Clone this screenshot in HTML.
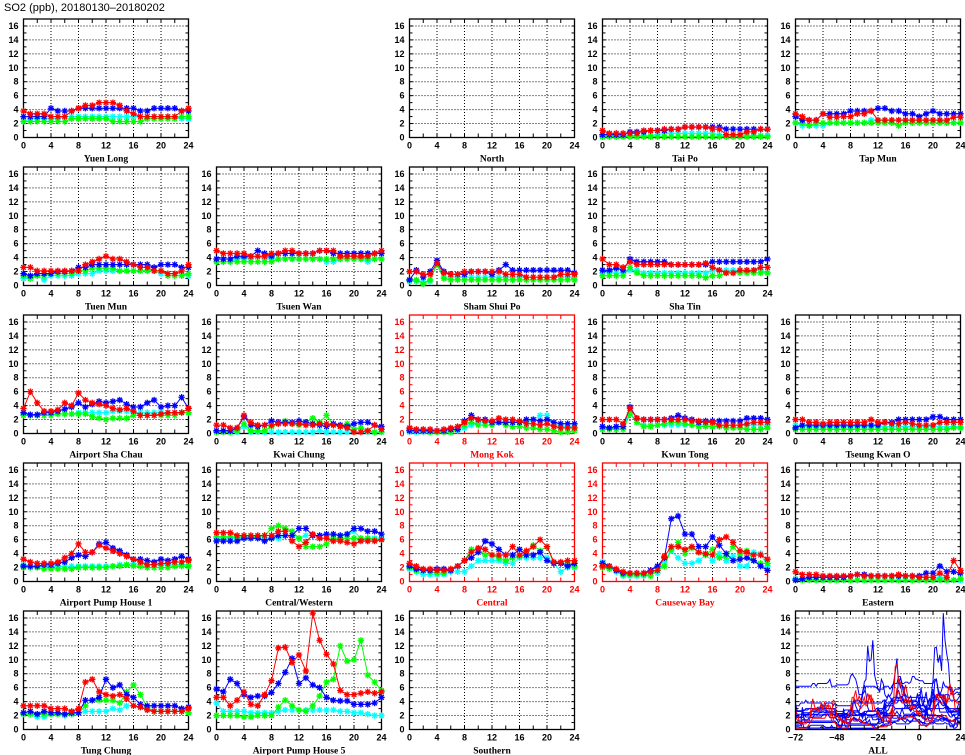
<!DOCTYPE html>
<html><head><meta charset="utf-8"><style>
body{margin:0;background:#fff;}
svg{display:block;font-family:"Liberation Sans",sans-serif;}
</style></head><body>
<svg id="chart" width="965" height="755" viewBox="0 0 965 755" xmlns="http://www.w3.org/2000/svg">
<text x="4" y="11" font-size="11" fill="#000">SO2 (ppb), 20180130–20180202</text>
</svg>
<script>
const hours = [0,1,2,3,4,5,6,7,8,9,10,11,12,13,14,15,16,17,18,19,20,21,22,23,24];
const xTicks = [0,4,8,12,16,20,24];
const yTicks = [0,2,4,6,8,10,12,14,16];
const allTicks = [-72,-48,-24,0,24];
const seriesColors = ['#00ffff','#00ff00','#0000ff','#ff0000'];
const seriesNames = ['cyan','green','blue','red'];

// each station: [cyan, green, blue, red]
const yuenLong = [
 [2.3,2.7,2.7,2.7,2.7,2.7,3,3,3,3,3,3,3,3,3,3,3,3,3,3,3,3,3,2.7,2.7],
 [2.3,2.3,2.3,2.3,2.3,2.3,2.3,2.7,2.7,2.7,2.7,2.7,2.7,2.3,2.3,2.3,2.3,2.3,2.7,2.7,2.7,2.7,2.7,3,3],
 [3,3,3,3,4.2,3.8,3.8,3.8,4.2,4.2,4.2,4.2,4.2,4.2,4.2,4.2,4.2,3.8,3.8,4.2,4.2,4.2,4.2,3.8,3.8],
 [3.8,3.4,3.4,3.4,3,3,3,3.8,4.2,4.6,4.6,5,5,5,4.6,3.8,3.4,3,3,3,3,3,3,3.8,4.2]];
const taiPo = [
 [0.2,0.2,0.2,0.2,0.3,0.3,0.3,0.3,0.4,0.6,0.6,0.6,0.6,0.6,0.6,0.6,0.6,0.4,0.3,0.3,0.3,0.3,0.3,0.3,0.3],
 [0.1,0.1,0.1,0.1,0.1,0.1,0.1,0.1,0.1,0.1,0.1,0.1,0.1,0.1,0.1,0.1,0.1,0.1,0.1,0.1,0.1,0.1,0.1,0.1,0.1],
 [0.4,0.4,0.4,0.4,0.8,0.8,0.8,1,1,1,1.2,1.2,1.5,1.5,1.5,1.5,1.5,1.5,1.2,1.2,1.2,1.2,1.2,1.2,1.2],
 [1,0.6,0.6,0.6,0.6,0.6,1,1,1,1.2,1.2,1.2,1.5,1.5,1.5,1.5,1.2,1.2,0.4,0.4,0.4,0.8,0.8,1.2,1.2]];
const tapMun = [
 [2.1,1.7,1.7,1.7,1.7,2.1,2.1,2.1,2.1,2.1,2.1,2.5,2.5,2.5,2.5,2.5,2.5,2.5,2.5,2.5,2.5,2.5,2.1,2.1,2.1],
 [2.1,2.1,1.7,2.1,2.1,2.1,2.1,2.1,2.1,2.1,2.1,2.1,2.1,2.1,2.1,1.7,2.1,2.1,2.1,2.1,2.1,2.1,2.1,2.1,2.1],
 [3,2.5,2.5,2.5,3.4,3.4,3.4,3.4,3.8,3.8,3.8,3.8,4.2,4.2,3.8,3.8,3.4,3.4,3,3.4,3.8,3.4,3.4,3.4,3.4],
 [3.4,3,2.5,2.5,3.4,2.9,2.9,3,3,3.4,3.4,3.8,2.5,2.5,2.5,2.5,2.5,2.5,2.5,2.5,2.5,2.5,2.5,2.9,2.9]];
const tuenMun = [
 [1,1,1.4,0.8,1.4,1.4,1.4,1.4,1.7,1.7,1.7,2.1,2.1,2.1,2.1,2.1,2.1,2.1,2.1,2.1,1.7,1.7,1.7,1.7,1.4],
 [1.4,1,1.4,1.4,1.7,1.7,1.7,1.7,2.1,2.1,2.5,2.5,2.5,2.5,2.1,2.1,2.1,2.1,2.1,2.1,2.1,1.4,1.4,1.4,1.7],
 [1.7,1.4,1.7,1.7,1.7,2,2,2.1,2.6,2.6,3,3,3,3,3,3,3,3,3,2.6,3,3,3,2.6,2.6],
 [2.6,2.6,2.1,2.1,2.1,2.1,2.1,2.1,2.1,3,3.4,3.8,4.2,3.8,3.8,3.4,3,2.6,2.6,2.1,2.1,1.7,1.7,2.1,3]];
const tsuenWan = [
 [3.4,3.4,3.4,3.8,3.8,3.8,4.2,3.8,3.8,3.8,3.8,3.8,3.8,3.8,3.8,3.8,3.4,3.4,3.8,3.8,3.8,3.8,3.4,3.8,3.8],
 [3.4,3.4,3.4,3.4,3.4,3.4,3.4,3.4,3.4,3.8,3.8,3.8,3.8,3.8,3.8,3.8,3.8,3.8,3.8,3.8,3.8,3.8,3.8,3.8,3.8],
 [3.8,3.8,3.8,4.2,4.2,4.2,5,4.6,4.2,4.6,4.6,4.6,4.6,4.6,4.6,5,5,4.6,4.6,4.6,4.6,4.6,4.6,4.6,4.6],
 [5,4.6,4.6,4.6,4.6,4.2,4.2,4.2,4.6,4.6,5,5,4.6,4.6,4.6,5,5,5,4.2,4.2,4.2,4.2,4.2,4.6,5]];
const shamShuiPo = [
 [0.6,0.6,0.6,0.6,3.2,1.2,1.2,1.2,1.2,1.2,1.2,1.2,1.2,1.2,1.2,1.2,1.2,1.2,1.2,1.2,1.2,1.2,1.2,1.2,1.2],
 [0.8,0.8,0.2,0.8,3,1,0.8,0.8,0.8,0.8,0.8,0.8,0.8,0.8,0.8,0.8,0.8,0.8,0.8,0.8,0.8,0.8,0.8,0.8,0.8],
 [0.8,2.2,1.2,2,3.6,2,1.6,1.6,1.6,2,2,2,1.6,2.2,3,2.2,2.2,2.2,2.2,2.2,2.2,2.2,2.2,2.2,1.8],
 [2,2,1.6,1.6,3.2,1.8,1.6,1.6,2,2,2,2,2,2,1.6,1.6,1.6,1.2,1.2,1.2,1.2,1.2,1.6,1.6,1.6]];
const shaTin = [
 [1.8,1.8,1.8,1.8,2.2,2.2,1.8,1.8,1.8,1.8,1.8,1.8,1.8,1.8,1.8,1.8,2.2,2.2,2.2,2.2,2.2,2.2,2.2,2.2,1.8],
 [1.4,1.4,1.4,1.4,2.6,1.8,1.4,1.4,1.4,1.4,1.4,1.4,1.4,1.4,1.4,1.1,1.4,1.4,1.8,1.8,1.8,1.8,1.8,1.8,1.8],
 [2.2,2.2,2.5,2.2,3.8,3.4,3.4,3.4,3.4,3.4,3,3,3,3,3,3,3.4,3.4,3.4,3.4,3.4,3.4,3.4,3.4,3.8],
 [3.8,3,3,2.6,3.4,3,3,3,3,3,3,3,3,3,3,3.2,2.6,2.2,1.8,1.8,2.2,2.2,2.2,2.6,2.6]];
const airportShaChau = [
 [2.8,2.6,2.6,2.6,2.8,2.8,2.8,2.8,3,3,3,3,3,3.2,3.2,3.2,3,3,3,3,3,3,3,3,3],
 [2.6,2.6,2.6,2.6,2.6,2.8,2.8,2.8,2.8,2.8,2.4,2.2,2,2.2,2.2,2.2,2.6,2.6,2.6,2.6,2.6,2.6,2.6,3,3],
 [3,2.7,2.7,3,3,3.2,3.5,3.8,4.4,3.8,4.2,4.6,4.4,4.6,4.8,4.2,3.8,3.8,4.4,4.8,3.8,4,4,5.2,3.6],
 [3.6,6,4.4,3.2,3.2,3.4,4.4,4,5.8,4.8,4.4,4.2,4,3.6,3.4,3.6,3.2,2.6,2.6,2.6,2.8,3,3,3,3.6]];
const kwaiChung = [
 [0.2,0.2,0.2,0.2,1,0.2,0.2,0.2,0.2,0.2,0.2,0.2,0.2,0.2,0.2,0.4,0.2,0.2,0.2,0.2,0.2,0.2,0.2,0.2,0.2],
 [0.2,0.2,0.2,0.4,1.4,0.4,0.4,0.4,1,1.4,1.8,1.4,1.2,1.6,2.2,1.6,2.6,1.2,1,1.4,0.6,0.8,0.4,0.2,0.2],
 [0.4,0.4,0.4,0.8,2.4,1.2,1,1.2,1.8,1.6,1.6,1.6,1.8,1.6,1.4,1.2,1,1.4,1.2,1,1.4,1.6,1.6,1.2,1],
 [1.2,1.2,0.8,0.8,2.6,1.6,1.2,1.2,1.2,1.4,1.4,1.4,1.4,1.2,1.2,1.4,1.4,1.2,1,0.8,0.2,0.2,0.4,1.2,0.6]];
const mongKok = [
 [0.2,0.2,0.2,0.2,0.2,0.2,0.2,0.4,0.8,1.2,1.6,1.6,1.6,1.6,1.6,1.6,1.6,1.6,2,2.6,2.6,1.2,1,1,1],
 [0.6,0.4,0.4,0.2,0.2,0.2,0.2,0.6,1.2,1.6,1.2,1.2,1.2,1.6,1.2,1,1,0.8,0.8,0.6,0.6,0.4,0.2,0.2,0.4],
 [0.4,0.4,0.4,0.4,0.4,0.4,0.6,0.6,1.8,2.6,2,2,1.6,1.6,1.6,1.6,1.6,2,2,1.8,2,1.6,1.4,1.4,1.4],
 [0.8,0.6,0.6,0.6,0.4,0.6,0.8,1,1.6,2.2,2,1.8,1.8,2.2,2,2,1.8,1.4,1.4,1.2,1.4,1,0.8,0.8,0.8]];
const kwunTong = [
 [0.8,0.8,0.8,1,3,1.6,1.2,1.2,1.2,1.2,1.2,1.2,1.2,1.2,1.2,1.2,1.2,1.2,1.2,1.2,1.2,1.2,1.2,1.2,1.2],
 [0.6,0.6,0.6,0.6,2.8,1.6,1,1,1.2,1.4,1.6,1.6,1.4,1.2,1,1,1,1,0.8,0.8,0.8,0.6,0.6,0.6,0.8],
 [1,0.8,1,1,3.8,2.2,2,2,2,2,2.2,2.6,2.2,2,1.6,1.8,1.8,1.8,1.8,1.8,1.8,2.2,2.2,2.2,2],
 [2,2,2,1.4,3.6,2.2,2,2,2,2,2,2,2,1.8,1.8,1.6,1.6,1.2,1.2,1.2,1.2,1.4,1.6,1.6,1.6]];
const tseungKwanO = [
 [1.2,1,1,1,1,1,1,1,1,1,1,1,1,1,1,1,1,1,1,1,1,1,1,1,1],
 [0.6,0.6,0.6,0.6,0.6,0.6,0.6,0.6,0.6,0.6,0.6,0.6,0.6,0.6,0.6,0.6,0.6,0.6,0.6,0.6,0.6,0.6,0.6,0.8,0.8],
 [0.8,1.2,1.2,1.2,1.2,1.2,1.2,1.2,1.2,1.2,1.2,1.2,1.2,1.6,1.6,2,2,2,2,2,2.4,2.4,2,2,2],
 [2,2,1.6,1.6,1.4,1.6,1.6,1.6,1.6,1.6,1.6,2,1.6,1.6,1.4,1.4,1.6,1.4,1.2,1.2,1.2,1.6,1.6,1.6,1.6]];
const airportPH1 = [
 [2.4,2.2,2.2,2.2,2.2,2.2,2.2,2.2,2.2,2.2,2.2,2.2,2.2,2.2,2.4,2.4,2.6,2.4,2.4,2.4,2.4,2.4,2.4,2.4,2.4],
 [2,2,2,1.8,1.8,1.8,1.8,1.8,2,2,2,2,2,2.2,2.2,2.4,2.2,2.2,2,2,2,2,2.2,2.2,2.2],
 [2.2,2.2,2.2,2.4,2.4,2.6,2.8,3.4,3.8,3.6,4.2,5.4,5.6,4.8,4.4,3.8,3.2,3.2,3,2.8,3.2,3,3.2,3.6,3.2],
 [3.2,2.8,2.6,2.6,2.6,2.8,3.4,4,5.4,4.2,4.2,5.2,4.8,4.4,4,3.6,3.2,2.8,2.4,2.4,2.6,2.6,2.8,2.8,3]];
const centralWestern = [
 [6.2,6.2,6.2,6.2,6.2,6.2,6.2,6.2,6.2,6.2,6.6,6.6,6.2,6.6,6.6,6.6,6.6,6.6,6.6,6.8,7.2,6.2,6.2,6.2,6.2],
 [6.4,6.4,6.4,6.4,6.4,6.4,6.4,6.6,7.6,8,7.6,7.2,6.2,5,5,5,5.4,6.2,6.2,6.2,6.2,6.2,6.2,6,6],
 [5.8,5.8,5.8,5.8,6.2,6.2,6.2,5.8,6.2,6.6,6.6,6.6,7.6,7.6,6.6,6.6,6.8,6.8,6.6,6.8,7.6,7.6,7.2,7.2,6.8],
 [7,7,7,6.6,6.6,6.6,6.6,6.6,6.6,7.2,7.2,5.8,5,5.6,6.8,6.2,6.2,5.8,5.8,5.6,5.4,5.8,5.8,5.8,6]];
const central = [
 [1.8,1.4,1,1,1,1,1.4,1.4,1.4,2.2,3,3,3,3,2.6,2.6,3.4,3.4,3.4,3.4,3.4,2.6,1.4,2,2],
 [2,1.6,1.6,1.4,1.2,1.2,1.8,2.2,3,4.6,4.6,3.8,3.8,3.4,3,3.4,3.6,3.8,5.2,4.4,5,2.6,2.6,2.6,2.2],
 [2.2,1.8,1.6,1.6,1.8,1.8,1.6,2.2,3,3.4,4.2,5.8,5.4,4.6,3.8,3.8,4.6,3.8,3.8,4.2,3,2.6,2.6,2.2,2.6],
 [2.6,2.2,1.8,1.8,1.6,1.6,1.8,2.2,3,4.2,4.8,4.6,3.8,3.8,3.8,5,3.8,4.4,5,6,5,2.8,2.8,3,3]];
const causewayBay = [
 [2.8,2.2,1.4,0.8,0.8,0.8,0.8,1.2,1.2,3,4.4,3.4,2.6,2.6,3,3.8,3,4,3,3.6,2.2,2.2,4.2,4,2.2],
 [2,1.8,1.6,1,1,1,1,0.8,1.6,2.2,4.6,5.6,4,4.8,4.2,3.8,4.6,3.4,3.6,5,3.8,4.4,3,2.6,2.6],
 [2.6,2.2,1.6,1.2,1.2,1.2,1.2,1.6,2.2,3.4,9,9.4,6.8,6.8,5,5,6.4,5.2,4,3,3.2,3.4,3,2.2,1.6],
 [2.2,2.2,1.8,1.4,1.2,1.2,1.2,1.4,1.6,3.6,5,5,4.6,5,4.2,4,3.8,6,6.4,5.6,4.4,4.2,3.8,3.8,3.2]];
const eastern = [
 [0.4,0.4,0.4,0.2,0.2,0.2,0.2,0.2,0.2,0.2,0.2,0.2,0.2,0.2,0.2,0.2,0.2,0.2,0.2,0.2,0.2,0.6,0.2,0.2,0.2],
 [0.2,0.2,0.2,0.2,0.2,0.2,0.2,0.2,0.2,0.2,0.2,0.2,0.2,0.2,0.2,0.2,0.2,0.2,0.2,0.2,0.2,0.2,0.2,0.2,0.4],
 [0.2,0.4,0.6,0.6,0.6,0.6,0.6,0.6,0.8,1,1,0.8,0.8,0.8,0.8,0.8,0.8,0.8,0.8,1.2,1.2,2.2,1.4,1.4,1.2],
 [1.4,1,1,1,0.8,0.8,0.8,0.8,0.8,1,0.8,0.8,0.8,0.8,0.8,1,0.8,0.8,0.6,0.6,0.6,1.2,0.6,3,1.6]];
const tungChung = [
 [2.2,2.2,1.8,1.8,2.2,2.2,2,2.2,2.4,2.6,2.6,2.6,2.6,3,2.8,3.4,3.4,3.2,2.8,2.6,2.6,2.6,2.6,2.6,2.4],
 [2.2,2.2,2.2,2.2,2.2,2.2,2.2,2.2,2.4,3.4,4.2,4.2,4.2,4.2,3.8,5.4,6.4,5,3.2,2.6,2.6,2.6,2.6,2.6,2.4],
 [2.4,2.6,2.2,2.6,2.4,2.4,2.2,2.4,2.4,4.2,4.2,4.6,7.2,6,6.4,5,4.6,3.6,3.4,3.4,3.4,3.4,3.4,3,3.2],
 [3.4,3.4,3.4,3.4,3,3,3,2.6,3,6.8,7.2,5.4,5,4.8,5,4.4,3.4,3.2,2.8,2.6,2.6,2.6,2.6,2.6,3]];
const airportPH5 = [
 [3.8,2.6,2.6,2.6,2.6,2.4,2.4,2.4,2.4,2.6,2.8,2.8,2.8,2.8,2.8,2.8,2.8,2.8,2.6,2.6,2.4,2.4,2.2,2,2],
 [2,2,2,2,1.8,1.8,2,2,2,3.2,4.2,3.4,2.8,2.6,3.4,4.8,6.8,7.2,12,9.8,10,12.8,7.8,6.8,5.6],
 [5.8,5.4,7.2,6.6,5,4.6,4.8,4.8,5.3,6.6,8.2,10.2,6.6,7.4,6.4,6,4.6,4.2,4.1,4.1,3.6,3.6,3.6,3.8,4.6],
 [4.6,4.6,3.4,4.2,5.4,3.6,3.4,5,7,11.7,11.8,9.6,10.7,8.4,16.7,12.8,10.8,9.4,5.6,5,5,5.2,5.4,5.2,5.4]];
const empty = [[],[],[],[]];

const stations = [
 {name:'Yuen Long',r:0,c:0,d:yuenLong},
 {name:'North',r:0,c:2,d:empty},
 {name:'Tai Po',r:0,c:3,d:taiPo},
 {name:'Tap Mun',r:0,c:4,d:tapMun},
 {name:'Tuen Mun',r:1,c:0,d:tuenMun},
 {name:'Tsuen Wan',r:1,c:1,d:tsuenWan},
 {name:'Sham Shui Po',r:1,c:2,d:shamShuiPo},
 {name:'Sha Tin',r:1,c:3,d:shaTin},
 {name:'Airport Sha Chau',r:2,c:0,d:airportShaChau},
 {name:'Kwai Chung',r:2,c:1,d:kwaiChung},
 {name:'Mong Kok',r:2,c:2,d:mongKok,red:true},
 {name:'Kwun Tong',r:2,c:3,d:kwunTong},
 {name:'Tseung Kwan O',r:2,c:4,d:tseungKwanO},
 {name:'Airport Pump House 1',r:3,c:0,d:airportPH1},
 {name:'Central/Western',r:3,c:1,d:centralWestern},
 {name:'Central',r:3,c:2,d:central,red:true},
 {name:'Causeway Bay',r:3,c:3,d:causewayBay,red:true},
 {name:'Eastern',r:3,c:4,d:eastern},
 {name:'Tung Chung',r:4,c:0,d:tungChung},
 {name:'Airport Pump House 5',r:4,c:1,d:airportPH5},
 {name:'Southern',r:4,c:2,d:empty}
];

const NS='http://www.w3.org/2000/svg';
const svg=document.getElementById('chart');
const PW=165, PH=118.5, YMAX=17;
function mk(tag,attrs,parent){const e=document.createElementNS(NS,tag);for(const k in attrs)e.setAttribute(k,attrs[k]);(parent||svg).appendChild(e);return e;}
function slug(s){return s.toLowerCase().replace(/[^a-z0-9]+/g,'-').replace(/-$/,'');}

function drawFrame(g,x0,y1,xmin,xmax,xt,minorStep,col,label){
  const sx=v=>x0+(v-xmin)/(xmax-xmin)*PW;
  const sy=v=>y1-v/YMAX*PH;
  for(const t of xt){ if(t===xmin||t===xmax) continue;
    const l=mk('line',{x1:sx(t),x2:sx(t),y1:y1-PH,y2:y1,stroke:'#000','stroke-width':1,'stroke-dasharray':'1,2'},g);
    
    
  }
  for(const t of yTicks){ if(t===0) continue;
    const l=mk('line',{x1:x0,x2:x0+PW,y1:sy(t),y2:sy(t),stroke:'#000','stroke-width':1,'stroke-dasharray':'1,2'},g);
    
    
  }
  for(let v=xmin;v<=xmax;v+=minorStep){
    mk('line',{x1:sx(v),x2:sx(v),y1:y1,y2:y1-4,stroke:col,'stroke-width':1},g);
    mk('line',{x1:sx(v),x2:sx(v),y1:y1-PH,y2:y1-PH+4,stroke:col,'stroke-width':1},g);
  }
  for(let v=1;v<YMAX;v+=1){
    mk('line',{x1:x0,x2:x0+3,y1:sy(v),y2:sy(v),stroke:col,'stroke-width':1},g);
    mk('line',{x1:x0+PW,x2:x0+PW-3,y1:sy(v),y2:sy(v),stroke:col,'stroke-width':1},g);
  }
  const fr=mk('rect',{x:x0,y:y1-PH,width:PW,height:PH,fill:'none',stroke:col,'stroke-width':1.3},g);
  
  
  for(const t of xt){
    const tx=mk('text',{x:sx(t),y:y1+11,'font-size':9,'font-weight':'bold','text-anchor':'middle',fill:col},g);
    tx.textContent=(t<0?'−'+(-t):t);
    
    
  }
  for(const t of yTicks){
    const tx=mk('text',{x:x0-5,y:sy(t)+3,'font-size':9,'font-weight':'bold','text-anchor':'end',fill:col},g);
    tx.textContent=t;
    
    
  }
  const tt=mk('text',{x:x0+PW/2,y:y1+24,'font-size':9.5,'font-weight':'bold','text-anchor':'middle',fill:col,'font-family':'"Liberation Serif",serif'},g);
  tt.textContent=label;
  
  
  return {sx,sy};
}

const clip=mk('defs',{});
stations.forEach((st,i)=>{
  const x0=23.5+193*st.c, y1=137.5+148*st.r;
  const col=st.red?'#ff0000':'#000';
  const g=mk('g',{});
  
  
  const {sx,sy}=drawFrame(g,x0,y1,0,24,xTicks,2,col,st.name);
  st.d.forEach((vals,si)=>{
    if(!vals.length) return;
    const c=seriesColors[si];
    const sg=mk('g',{},g);
    
    
    const pts=vals.map((v,k)=>sx(hours[k]).toFixed(1)+','+sy(v).toFixed(1)).join(' ');
    mk('polyline',{points:pts,fill:'none',stroke:c,'stroke-width':1},sg);
    vals.forEach((v,k)=>{
      const x=sx(hours[k]), y=sy(v), r=3.2;
      const m=mk('path',{d:`M${x-r},${y}H${x+r}M${x},${y-r}V${y+r}M${x-2.3},${y-2.3}L${x+2.3},${y+2.3}M${x-2.3},${y+2.3}L${x+2.3},${y-2.3}`,stroke:c,'stroke-width':1.3},sg);
      
      
    });
  });
});

// ALL panel
(function(){
  const x0=23.5+193*4, y1=137.5+148*4;
  const g=mk('g',{});
  
  
  mk('clipPath',{id:'allclip'},clip).appendChild((()=>{const r=document.createElementNS(NS,'rect');r.setAttribute('x',x0);r.setAttribute('y',y1-PH);r.setAttribute('width',PW);r.setAttribute('height',PH);return r;})());
  const sx=v=>x0+(v+72)/96*PW, sy=v=>y1-v/YMAX*PH;
  const lg=mk('g',{'clip-path':'url(#allclip)'},g);
  const order=stations.filter(s=>!s.red).concat(stations.filter(s=>s.red));
  order.forEach(st=>{
    if(!st.d[0].length) return;
    const pts=[];
    st.d.forEach((vals,si)=>{
      vals.forEach((v,k)=>{ if(si<3&&k===24) return; pts.push(sx(hours[k]-72+24*si).toFixed(1)+','+sy(v).toFixed(1)); });
    });
    const pl=mk('polyline',{points:pts.join(' '),fill:'none',stroke:st.red?'#ff0000':'#0000ff','stroke-width':1},lg);
    
    
  });
  drawFrame(g,x0,y1,-72,24,allTicks,8,'#000','ALL');
})();
</script>
</body></html>
